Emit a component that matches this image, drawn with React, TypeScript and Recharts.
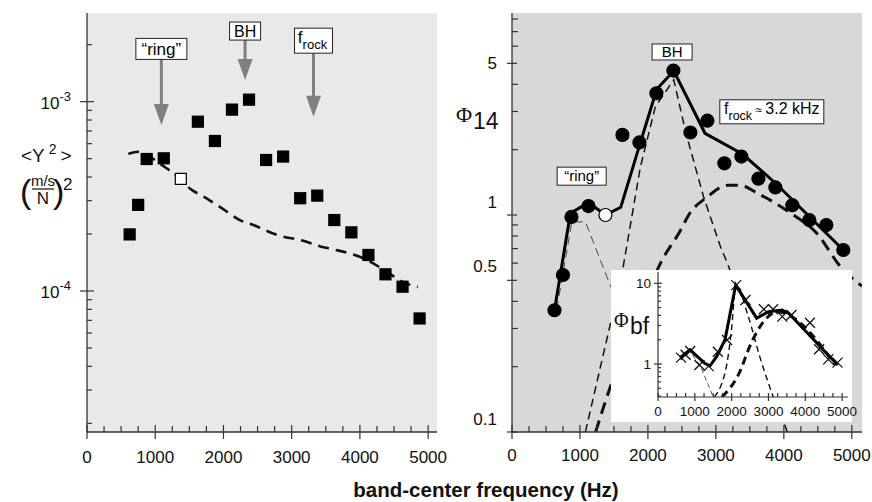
import React from 'react';
import { ComposedChart, Line, Scatter, XAxis, YAxis, CartesianGrid, ReferenceLine, ReferenceDot } from 'recharts';

const SANS = '"Liberation Sans", Arial, Helvetica, sans-serif';
const SERIF = '"Liberation Serif", "Times New Roman", serif';

// ---------- shared band-center frequencies (Hz) ----------
const bandFreqs = [625, 750, 875, 1125, 1375, 1625, 1875, 2125, 2375, 2625, 2875, 3125, 3375, 3625, 3875, 4125, 4375, 4625, 4875];

// ---------- left panel: <Y^2> ((m/s)/N)^2 ----------
const mobilityValues = [1.99e-4, 2.85e-4, 4.98e-4, 5.02e-4, null, 7.84e-4, 6.2e-4, 9.08e-4, 1.025e-3, 4.92e-4, 5.13e-4, 3.09e-4, 3.19e-4, 2.37e-4, 2.04e-4, 1.55e-4, 1.225e-4, 1.054e-4, 7.16e-5];
const mobilityOpenFreqs = [1375];
const mobilityOpenValues = [3.91e-4];
const mobilityFitFreqs = [605, 750, 900, 1100, 1270, 1535, 1710, 1980, 2240, 2440, 2780, 3170, 3420, 3610, 4050, 4400, 4620, 4850];
const mobilityFitValues = [5.3e-4, 5.44e-4, 5.17e-4, 4.62e-4, 4.18e-4, 3.42e-4, 3.15e-4, 2.73e-4, 2.37e-4, 2.23e-4, 1.98e-4, 1.84e-4, 1.72e-4, 1.66e-4, 1.49e-4, 1.26e-4, 1.12e-4, 1.05e-4];

// ---------- right panel: Phi14 ----------
const phi14Values = [0.364, 0.529, 0.98, 1.10, null, 2.34, 2.16, 3.64, 4.63, 2.40, 2.72, 1.73, 1.86, 1.47, 1.34, 1.11, 0.948, 0.899, 0.69];
const phi14OpenFreqs = [1375];
const phi14OpenValues = [1.0];
const phi14FitFreqs = [625, 860, 1125, 1375, 1600, 1890, 2130, 2380, 2840, 3390, 3890, 4875];
const phi14FitValues = [0.364, 1.02, 1.14, 1.0, 1.085, 2.16, 3.8, 4.62, 2.38, 1.91, 1.39, 0.69];
const ringFreqs = [660, 880, 1080, 1450, 1900];
const ringValues = [0.37, 0.93, 0.93, 0.47, 0.27];
const bhFreqs = [1080, 1620, 1890, 2110, 2380, 2560, 2820, 3070, 3170, 4050];
const bhValues = [0.1, 0.54, 1.67, 3.16, 4.2, 2.38, 1.21, 0.71, 0.6, 0.1];
const rockFreqs = [1230, 1500, 1850, 2185, 2480, 2600, 2870, 3170, 3360, 3610, 4100, 4490, 4835, 5150];
const rockValues = [0.1, 0.18, 0.33, 0.6, 0.85, 1.0, 1.21, 1.37, 1.37, 1.26, 1.02, 0.82, 0.577, 0.47];

// ---------- inset: Phi_bf ----------
const bfFreqs = [625, 750, 875, 1125, 1375, 1625, 1875, 2125, 2375, 2875, 3125, 3375, 3625, 4125, 4375, 4625, 4875];
const bfValues = [1.2, 1.3, 1.45, 0.97, 0.94, 1.42, 1.98, 9.5, 6.2, 4.76, 4.76, 3.86, 4.05, 3.25, 1.52, 1.14, 1.04];
const bfFitFreqs = [600, 870, 1270, 1410, 1600, 1820, 2110, 2680, 3000, 3370, 3550, 4880];
const bfFitValues = [1.2, 1.5, 1.02, 0.95, 1.25, 2.0, 9.5, 3.7, 4.45, 4.65, 4.25, 0.97];
const bfRingFreqs = [625, 860, 1150, 1500];
const bfRingValues = [1.2, 1.45, 0.95, 0.39];
const bfBhFreqs = [1530, 1870, 1990, 2120, 2450, 2774, 3130];
const bfBhValues = [0.39, 1.0, 2.5, 9.5, 3.9, 1.19, 0.39];
const bfRockFreqs = [1740, 2180, 2548, 2864, 3273, 3545, 4817];
const bfRockValues = [0.39, 0.73, 1.89, 3.34, 4.45, 4.05, 0.97];

// ---------- ticks ----------
const freqTicks = [0, 250, 500, 750, 1000, 1250, 1500, 1750, 2000, 2250, 2500, 2750, 3000, 3250, 3500, 3750, 4000, 4250, 4500, 4750, 5000];
const freqLabels = [0, 1000, 2000, 3000, 4000, 5000];
const leftYTicks = [2e-5, 3e-5, 4e-5, 5e-5, 6e-5, 7e-5, 8e-5, 9e-5, 1e-4, 2e-4, 3e-4, 4e-4, 5e-4, 6e-4, 7e-4, 8e-4, 9e-4, 1e-3, 2e-3];
const leftYLabels = [1e-4, 1e-3];
const leftYExponents = ['-4', '-3'];
const rightYTicks = [0.1, 0.2, 0.3, 0.4, 0.5, 0.6, 0.7, 0.8, 0.9, 1, 2, 3, 4, 5, 6, 7, 8];
const rightYLabels = [0.1, 0.5, 1, 5];
const insetYTicks = [0.4, 0.5, 0.6, 0.7, 0.8, 0.9, 1, 2, 3, 4, 5, 6, 7, 8, 9, 10];
const insetYLabels = [1, 10];

// ---------- annotations ----------
const leftNoteNames = ['ring', 'BH', 'frock'];
const leftNoteFreqs = [1090, 2317, 3320];
const leftNoteBoxValues = [1.9e-3, 2.36e-3, 2.1e-3];
const leftArrowFromValues = [1.675e-3, 2.12e-3, 1.8e-3];
const leftArrowToValues = [7.53e-4, 1.3e-3, 8.33e-4];
const rightNoteNames = ['BH', 'frock', 'ring'];
const rightNoteFreqs = [2356, 3823, 1025];
const rightNoteValues = [5.64, 2.99, 1.51];

const zip = (fs: number[], vs: (number | null)[]) =>
  fs.map((f, i) => ({ f, v: vs[i] })).filter((d) => d.v !== null && d.v !== undefined);

const AX = '#333';

function makeXTick(labels: number[], major: number, minor: number, fontSize: number, labelDy: number) {
  return (p: any) => {
    const { x, y, payload } = p;
    const v = payload.value;
    const isMajor = labels.includes(v);
    return (
      <g>
        <line x1={x} x2={x} y1={y - (isMajor ? major : minor)} y2={y + (isMajor ? major : 0)} stroke={AX} strokeWidth={1.2} />
        {isMajor && (
          <text x={x} y={y + labelDy} textAnchor="middle" fontSize={fontSize} fontFamily={SANS} fill="#111">
            {v}
          </text>
        )}
      </g>
    );
  };
}

function makeYTick(labels: number[], major: number, minor: number, render: (v: number, x: number, y: number) => any) {
  return (p: any) => {
    const { x, y, payload } = p;
    const v = payload.value;
    const isMajor = labels.includes(v);
    return (
      <g>
        <line x1={x - (isMajor ? major : 0)} x2={x + (isMajor ? major : minor)} y1={y} y2={y} stroke={AX} strokeWidth={1.2} />
        {isMajor && render(v, x, y)}
      </g>
    );
  };
}

const leftYTick = makeYTick(leftYLabels, 7, 5, (v, x, y) => (
  <text x={x - 16} y={y + 7} textAnchor="end" fontSize={17} fontFamily={SANS} fill="#111">
    10<tspan dy={-8} fontSize={13}>{leftYExponents[leftYLabels.indexOf(v)]}</tspan>
  </text>
));

const rightLabelShift: Record<string, number> = { '0.1': -7, '0.5': -8, '1': -7, '5': 6 };
const rightYTick = makeYTick(rightYLabels, 5, 6, (v, x, y) => (
  <text x={x - 15} y={y + (rightLabelShift[String(v)] ?? 6)} textAnchor="end" fontSize={17} fontFamily={SANS} fill="#111">
    {v}
  </text>
));

const insetYTick = makeYTick(insetYLabels, 4, 3, (v, x, y) => (
  <text x={x - 7} y={y + 5} textAnchor="end" fontSize={13.5} fontFamily={SANS} fill="#111">
    {v}
  </text>
));

function ArrowShape(p: any) {
  const { x1, y1, x2, y2 } = p;
  if (x1 === undefined) return null;
  const headLen = 21;
  const headHalf = 7.5;
  return (
    <g>
      <line x1={x1} y1={y1} x2={x2} y2={y2 - headLen + 1} stroke="#7f7f7f" strokeWidth={3} />
      <polygon points={`${x2 - headHalf},${y2 - headLen} ${x2 + headHalf},${y2 - headLen} ${x2},${y2}`} fill="#7f7f7f" />
    </g>
  );
}

function NoteBox({ cx, cy, name, side }: any) {
  if (cx === undefined) return null;
  let w = 50, h = 21, content: any = null;
  if (side === 'left') {
    if (name === 'ring') {
      w = 51; h = 21;
      content = <text x={cx} y={cy + 6} textAnchor="middle" fontSize={17} fontFamily={SANS}>{'\u201Cring\u201D'}</text>;
    } else if (name === 'BH') {
      w = 31; h = 18;
      content = <text x={cx} y={cy + 6} textAnchor="middle" fontSize={16} fontFamily={SANS}>BH</text>;
    } else {
      w = 38; h = 25;
      content = (
        <text x={cx - 1} y={cy + 2} textAnchor="middle" fontSize={17} fontFamily={SANS}>
          f<tspan dy={6} fontSize={13}>rock</tspan>
        </text>
      );
    }
  } else {
    if (name === 'ring') {
      w = 49; h = 18;
      content = <text x={cx} y={cy + 5} textAnchor="middle" fontSize={15} fontFamily={SANS}>{'\u201Cring\u201D'}</text>;
    } else if (name === 'BH') {
      w = 40; h = 16;
      content = <text x={cx} y={cy + 5.5} textAnchor="middle" fontSize={15} fontFamily={SANS}>BH</text>;
    } else {
      w = 104; h = 24;
      content = (
        <text x={cx} y={cy + 2} textAnchor="middle" fontSize={16} fontFamily={SANS}>
          f<tspan dy={6} fontSize={12.5}>rock</tspan>
          <tspan dy={-6} fontSize={12}>{' \u2248 '}</tspan>
          <tspan fontSize={16}>3.2 kHz</tspan>
        </text>
      );
    }
  }
  return (
    <g>
      <rect x={cx - w / 2} y={cy - h / 2} width={w} height={h} fill="#fff" stroke="#222" strokeWidth={1} />
      {content}
    </g>
  );
}

const squareShape = (fill: string) => (p: any) =>
  p.cx === undefined ? null : <rect x={p.cx - 5.5} y={p.cy - 5.5} width={11} height={11} fill={fill} stroke="#000" strokeWidth={1.2} />;
const circleShape = (fill: string) => (p: any) =>
  p.cx === undefined ? null : <circle cx={p.cx} cy={p.cy} r={6.5} fill={fill} stroke="#000" strokeWidth={1.2} />;
const crossShape = (p: any) =>
  p.cx === undefined ? null : (
    <g stroke="#111" strokeWidth={1.3}>
      <line x1={p.cx - 5} y1={p.cy - 5} x2={p.cx + 5} y2={p.cy + 5} />
      <line x1={p.cx - 5} y1={p.cy + 5} x2={p.cx + 5} y2={p.cy - 5} />
    </g>
  );

function LeftChart() {
  const xDom: [number, number] = [0, 5130];
  const yDom: [number, number] = [1.8e-5, 2.94e-3];
  return (
    <ComposedChart width={470} height={502} margin={{ top: 13, right: 33, bottom: 40, left: 0 }}>
      <CartesianGrid horizontal={false} vertical={false} fill="#e9e9e9" />
      <XAxis dataKey="f" type="number" domain={xDom} ticks={freqTicks} interval={0} allowDataOverflow
        tickSize={0} tickMargin={0} height={30} axisLine={{ stroke: AX, strokeWidth: 1.3 }} tickLine={false}
        tick={makeXTick(freqLabels, 7, 6, 17, 31)} />
      <XAxis xAxisId="top" orientation="top" type="number" domain={xDom} allowDataOverflow height={0}
        tick={false} tickLine={false} axisLine={{ stroke: AX, strokeWidth: 1.3 }} />
      <YAxis dataKey="v" type="number" scale="log" domain={yDom} ticks={leftYTicks} interval={0} allowDataOverflow
        width={87} tickSize={0} tickMargin={0} axisLine={{ stroke: AX, strokeWidth: 1.3 }} tickLine={false} tick={leftYTick} />
      <YAxis yAxisId="right" orientation="right" type="number" scale="log" domain={yDom} allowDataOverflow width={0}
        tick={false} tickLine={false} axisLine={{ stroke: AX, strokeWidth: 1.3 }} />
      <Line data={zip(mobilityFitFreqs, mobilityFitValues)} dataKey="v" type="monotone" stroke="#111" strokeWidth={2.6}
        strokeDasharray="11 7" dot={false} isAnimationActive={false} />
      <Scatter data={zip(bandFreqs, mobilityValues)} dataKey="v" shape={squareShape('#000')} isAnimationActive={false} />
      <Scatter data={zip(mobilityOpenFreqs, mobilityOpenValues)} dataKey="v" shape={squareShape('#fff')} isAnimationActive={false} />
      {leftNoteNames.map((n, i) => (
        <ReferenceLine key={'a' + n} segment={[{ x: leftNoteFreqs[i], y: leftArrowFromValues[i] }, { x: leftNoteFreqs[i], y: leftArrowToValues[i] }]}
          shape={(p: any) => <ArrowShape {...p} />} />
      ))}
      {leftNoteNames.map((n, i) => (
        <ReferenceDot key={'b' + n} x={leftNoteFreqs[i]} y={leftNoteBoxValues[i]} r={1}
          shape={(p: any) => <NoteBox cx={p.cx} cy={p.cy} name={n} side="left" />} />
      ))}
    </ComposedChart>
  );
}

function RightChart() {
  const xDom: [number, number] = [0, 5150];
  const yDom: [number, number] = [0.1, 8.53];
  return (
    <ComposedChart width={432} height={502} margin={{ top: 13, right: 10, bottom: 40, left: 0 }}>
      <CartesianGrid horizontal={false} vertical={false} fill="#d8d8d8" />
      <XAxis dataKey="f" type="number" domain={xDom} ticks={freqTicks} interval={0} allowDataOverflow
        tickSize={0} tickMargin={0} height={30} axisLine={{ stroke: AX, strokeWidth: 1.3 }} tickLine={false}
        tick={makeXTick(freqLabels, 7, 6, 17, 29)} />
      <XAxis xAxisId="top" orientation="top" type="number" domain={xDom} allowDataOverflow height={0}
        tick={false} tickLine={false} axisLine={{ stroke: AX, strokeWidth: 1.3 }} />
      <YAxis dataKey="v" type="number" scale="log" domain={yDom} ticks={rightYTicks} interval={0} allowDataOverflow
        width={72} tickSize={0} tickMargin={0} axisLine={{ stroke: AX, strokeWidth: 1.3 }} tickLine={false} tick={rightYTick} />
      <YAxis yAxisId="right" orientation="right" type="number" scale="log" domain={yDom} allowDataOverflow width={0}
        tick={false} tickLine={false} axisLine={{ stroke: AX, strokeWidth: 1.3 }} />
      <Line data={zip(ringFreqs, ringValues)} dataKey="v" type="linear" stroke="#444" strokeWidth={1} strokeDasharray="8 5"
        dot={false} isAnimationActive={false} />
      <Line data={zip(bhFreqs, bhValues)} dataKey="v" type="linear" stroke="#111" strokeWidth={1.5} strokeDasharray="8 5"
        dot={false} isAnimationActive={false} />
      <Line data={zip(rockFreqs, rockValues)} dataKey="v" type="monotone" stroke="#111" strokeWidth={3} strokeDasharray="12 7"
        dot={false} isAnimationActive={false} />
      <Line data={zip(phi14FitFreqs, phi14FitValues)} dataKey="v" type="linear" stroke="#000" strokeWidth={3}
        dot={false} isAnimationActive={false} />
      <Scatter data={zip(bandFreqs, phi14Values)} dataKey="v" shape={circleShape('#000')} isAnimationActive={false} />
      <Scatter data={zip(phi14OpenFreqs, phi14OpenValues)} dataKey="v" shape={circleShape('#fff')} isAnimationActive={false} />
      {rightNoteNames.map((n, i) => (
        <ReferenceDot key={'r' + n} x={rightNoteFreqs[i]} y={rightNoteValues[i]} r={1}
          shape={(p: any) => <NoteBox cx={p.cx} cy={p.cy} name={n} side="right" />} />
      ))}
    </ComposedChart>
  );
}

function InsetChart() {
  const xDom: [number, number] = [0, 5160];
  const yDom: [number, number] = [0.39, 13.8];
  return (
    <ComposedChart width={254} height={152} margin={{ top: 2, right: 17, bottom: 0, left: 0 }}>
      <XAxis dataKey="f" type="number" domain={xDom} ticks={freqTicks} interval={0} allowDataOverflow
        tickSize={0} tickMargin={0} height={25} axisLine={{ stroke: AX, strokeWidth: 1.2 }} tickLine={false}
        tick={makeXTick(freqLabels, 4, 4, 13.5, 19)} />
      <XAxis xAxisId="top" orientation="top" type="number" domain={xDom} allowDataOverflow height={0}
        tick={false} tickLine={false} axisLine={{ stroke: AX, strokeWidth: 1.2 }} />
      <YAxis dataKey="v" type="number" scale="log" domain={yDom} ticks={insetYTicks} interval={0} allowDataOverflow
        width={47} tickSize={0} tickMargin={0} axisLine={{ stroke: AX, strokeWidth: 1.2 }} tickLine={false} tick={insetYTick} />
      <YAxis yAxisId="right" orientation="right" type="number" scale="log" domain={yDom} allowDataOverflow width={0}
        tick={false} tickLine={false} axisLine={{ stroke: AX, strokeWidth: 1.2 }} />
      <Line data={zip(bfRingFreqs, bfRingValues)} dataKey="v" type="linear" stroke="#444" strokeWidth={0.9} strokeDasharray="5 3"
        dot={false} isAnimationActive={false} />
      <Line data={zip(bfBhFreqs, bfBhValues)} dataKey="v" type="monotone" stroke="#111" strokeWidth={1.4} strokeDasharray="6 4"
        dot={false} isAnimationActive={false} />
      <Line data={zip(bfRockFreqs, bfRockValues)} dataKey="v" type="monotone" stroke="#111" strokeWidth={3} strokeDasharray="8 5"
        dot={false} isAnimationActive={false} />
      <Line data={zip(bfFitFreqs, bfFitValues)} dataKey="v" type="linear" stroke="#000" strokeWidth={3}
        dot={false} isAnimationActive={false} />
      <Scatter data={zip(bfFreqs, bfValues)} dataKey="v" shape={crossShape} isAnimationActive={false} />
    </ComposedChart>
  );
}

export default function App() {
  return (
    <div style={{ position: 'absolute', left: 0, top: 0, width: 872, height: 502, background: '#fff', overflow: 'hidden' }}>
      <div style={{ position: 'absolute', left: 0, top: 0 }}>
        <LeftChart />
      </div>
      <div style={{ position: 'absolute', left: 440, top: 0 }}>
        <RightChart />
      </div>
      <div style={{ position: 'absolute', left: 611, top: 270, width: 241, height: 152, background: '#fff' }} />
      <div style={{ position: 'absolute', left: 611, top: 270 }}>
        <InsetChart />
      </div>
      <svg width={872} height={502} style={{ position: 'absolute', left: 0, top: 0, pointerEvents: 'none' }}>
        <text x={21} y={162} fontSize={19} fontFamily={SANS} fill="#111">
          {'<Y'}<tspan dx={4} dy={-8} fontSize={14}>2</tspan><tspan dx={4} dy={8}>{'>'}</tspan>
        </text>
        <text x={20} y={203} fontSize={34} fontFamily={SANS} fontWeight={300} fill="#111">(</text>
        <text x={43} y={186} fontSize={15} fontFamily={SANS} fill="#111" textAnchor="middle">m/s</text>
        <line x1={32} x2={54} y1={189} y2={189} stroke="#111" strokeWidth={1.2} />
        <text x={43} y={204} fontSize={17} fontFamily={SANS} fill="#111" textAnchor="middle">N</text>
        <text x={53} y={203} fontSize={34} fontFamily={SANS} fontWeight={300} fill="#111">)</text>
        <text x={63} y={190} fontSize={17} fontFamily={SANS} fill="#111">2</text>

        <text x={456} y={122} fontSize={22} fontFamily={SERIF} fill="#111">{'\u03A6'}</text>
        <text x={473} y={129} fontSize={23} fontFamily={SANS} fill="#111">14</text>

        <text x={614} y={327} fontSize={20} fontFamily={SERIF} fill="#111">{'\u03A6'}</text>
        <text x={630} y={334} fontSize={23} fontFamily={SANS} fill="#111">bf</text>

        <text x={486} y={497} fontSize={20.5} fontWeight="bold" fontFamily={SANS} fill="#111" textAnchor="middle">
          band-center frequency (Hz)
        </text>
      </svg>
    </div>
  );
}
